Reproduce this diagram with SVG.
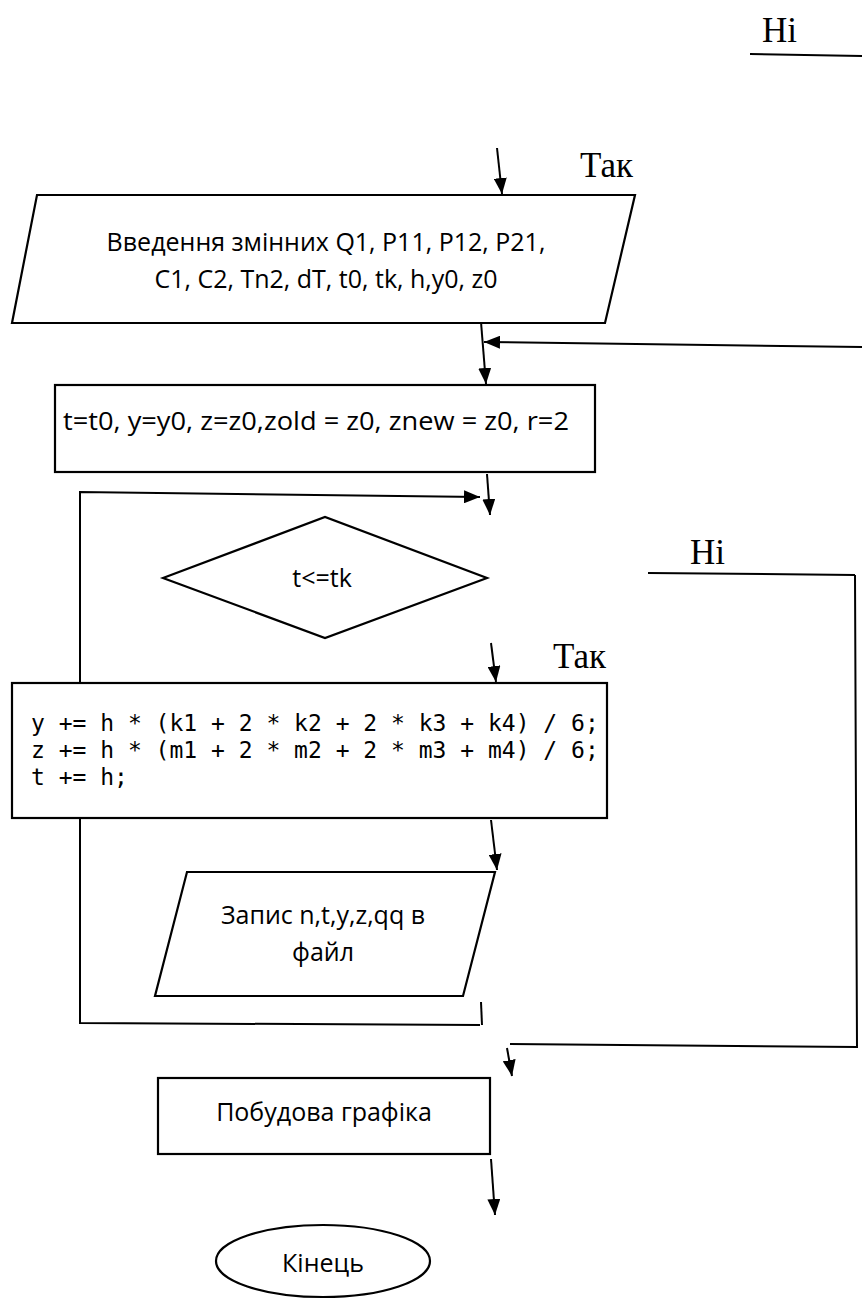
<svg xmlns="http://www.w3.org/2000/svg" width="862" height="1301" viewBox="0 0 862 1301">
<style>
.shape{fill:#fff;stroke:#000;stroke-width:2.2}
.conn{fill:none;stroke:#000;stroke-width:2}
.lbl{font-family:"Liberation Serif",serif;font-size:35px;fill:#000}
.txt{font-family:"Open Sans","Liberation Sans",sans-serif;font-size:25px;fill:#000}
.mono{font-family:"DejaVu Sans Mono","Liberation Mono",monospace;font-size:23px;fill:#000}
</style>
<defs>
<marker id="ahb" markerWidth="16" markerHeight="13" refX="16" refY="6.5" orient="auto" markerUnits="userSpaceOnUse" viewBox="0 0 16 13">
<path d="M0,0 L16,6.5 L0,13 z" fill="#000"/>
</marker>
</defs>

<g id="connectors">
<line class="conn" x1="750" y1="54" x2="862" y2="56"/>
<line class="conn" x1="497" y1="148" x2="502" y2="194" marker-end="url(#ahb)"/>
<line class="conn" x1="481" y1="322" x2="486" y2="384" marker-end="url(#ahb)"/>
<line class="conn" x1="862" y1="347" x2="484" y2="342" marker-end="url(#ahb)"/>
<line class="conn" x1="487" y1="474" x2="490" y2="515" marker-end="url(#ahb)"/>
<polyline class="conn" points="80,683 80,492 480,497" marker-end="url(#ahb)"/>
<line class="conn" x1="648" y1="573" x2="855" y2="575"/>
<polyline class="conn" points="855,575 857,1047 510,1044"/>
<line class="conn" x1="507" y1="1048" x2="512" y2="1076" marker-end="url(#ahb)"/>
<line class="conn" x1="491" y1="643" x2="496" y2="682" marker-end="url(#ahb)"/>
<line class="conn" x1="491" y1="820" x2="497" y2="870" marker-end="url(#ahb)"/>
<polyline class="conn" points="80,818 80,1023 480,1025"/>
<line class="conn" x1="481" y1="1002" x2="482" y2="1025"/>
<line class="conn" x1="491" y1="1159" x2="495" y2="1215" marker-end="url(#ahb)"/>
</g>

<g id="labels">
<text class="lbl" x="762" y="42">Ні</text>
<text class="lbl" x="580" y="177">Так</text>
<text class="lbl" x="690" y="564">Ні</text>
<text class="lbl" x="553" y="668">Так</text>
</g>

<g id="input">
<polygon class="shape" points="37,195 635,195 605,323 12,323"/>
<text class="txt" x="326" y="251" text-anchor="middle">Введення змінних Q1, P11, P12, P21,</text>
<text class="txt" x="326" y="288" text-anchor="middle">C1, C2, Tn2, dT, t0, tk, h,y0, z0</text>
</g>

<g id="init">
<rect class="shape" x="55" y="385" width="540" height="87"/>
<text class="txt" x="63" y="430" textLength="506" lengthAdjust="spacingAndGlyphs">t=t0, y=y0, z=z0,zold = z0, znew = z0, r=2</text>
</g>

<g id="cond">
<polygon class="shape" points="163,578 325,517 487,578 325,638"/>
<text class="txt" x="322" y="587" text-anchor="middle">t&lt;=tk</text>
</g>

<g id="step">
<rect class="shape" x="12" y="683" width="595" height="135"/>
<text class="mono" x="31" y="731" xml:space="preserve">y += h * (k1 + 2 * k2 + 2 * k3 + k4) / 6;</text>
<text class="mono" x="31" y="758" xml:space="preserve">z += h * (m1 + 2 * m2 + 2 * m3 + m4) / 6;</text>
<text class="mono" x="31" y="785" xml:space="preserve">t += h;</text>
</g>

<g id="write">
<polygon class="shape" points="187,872 495,872 463,996 155,996"/>
<text class="txt" x="323" y="924" text-anchor="middle">Запис n,t,y,z,qq в</text>
<text class="txt" x="323" y="961" text-anchor="middle">файл</text>
</g>

<g id="plot">
<rect class="shape" x="158" y="1078" width="332" height="76"/>
<text class="txt" x="324" y="1121" text-anchor="middle">Побудова графіка</text>
</g>

<g id="end">
<ellipse class="shape" cx="323" cy="1261" rx="107" ry="36"/>
<text class="txt" x="323" y="1272" text-anchor="middle">Кінець</text>
</g>
</svg>
